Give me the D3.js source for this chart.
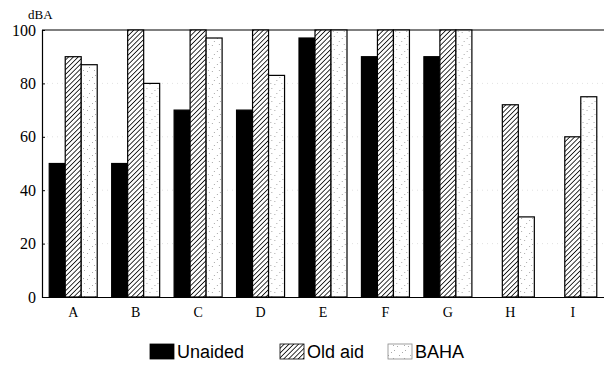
<!DOCTYPE html>
<html>
<head>
<meta charset="utf-8">
<style>
  body { margin: 0; background: #fff; }
  .tick text { font-family: "Liberation Serif", "DejaVu Serif", serif; }
</style>
</head>
<body>
<svg id="chart" width="604" height="365"></svg>
<script src="https://d3js.org/d3.v7.min.js"></script>
<script>
// data
var categories = ["A", "B", "C", "D", "E", "F", "G", "H", "I"];
var seriesNames = ["Unaided", "Old aid", "BAHA"];
var unaided = [50, 50, 70, 70, 97, 90, 90, 0, 0];
var oldAid  = [90, 100, 100, 100, 100, 100, 100, 72, 60];
var baha    = [87, 80, 97, 83, 100, 100, 100, 30, 75];
var yTicks  = [0, 20, 40, 60, 80, 100];

var svg = d3.select("#chart"),
    margin = {top: 30, right: 0, bottom: 68, left: 42},
    width = +svg.attr("width") - margin.left - margin.right,
    height = +svg.attr("height") - margin.top - margin.bottom;

// patterns
var defs = svg.append("defs");
var hatch = defs.append("pattern")
  .attr("id", "hatch")
  .attr("patternUnits", "userSpaceOnUse")
  .attr("width", 3.4).attr("height", 3.4)
  .attr("patternTransform", "rotate(45)");
hatch.append("rect").attr("width", 3.4).attr("height", 3.4).attr("fill", "#fff");
hatch.append("line").attr("x1", 0).attr("y1", 0).attr("x2", 0).attr("y2", 3.4)
  .attr("stroke", "#111").attr("stroke-width", 1.7);

var dots = defs.append("pattern")
  .attr("id", "dots")
  .attr("patternUnits", "userSpaceOnUse")
  .attr("width", 11).attr("height", 13);
dots.append("rect").attr("width", 11).attr("height", 13).attr("fill", "#fff");
[[1,2],[6,8],[8,1],[3,11],[9,6]].forEach(function(p){
  dots.append("rect").attr("x", p[0]).attr("y", p[1]).attr("width", 1).attr("height", 1).attr("fill", "#aaa");
});

var fills = ["#000", "url(#hatch)", "url(#dots)"];

var x = d3.scaleBand().domain(categories).range([0, width]);
var xs = d3.scaleBand().domain(seriesNames).range([x.bandwidth()/2 - 24, x.bandwidth()/2 + 24]);
var y = d3.scaleLinear().domain([0, 100]).range([height, 0]);

var g = svg.append("g").attr("transform", "translate(" + margin.left + "," + margin.top + ")");

// faint gridlines
g.append("g")
  .selectAll("line").data(yTicks.slice(1, -1)).enter().append("line")
  .attr("x1", 0).attr("x2", width)
  .attr("y1", function(d){ return y(d); }).attr("y2", function(d){ return y(d); })
  .attr("stroke", "#ccc").attr("stroke-width", 0.6).attr("stroke-dasharray", "1,4");

// top frame line
g.append("line").attr("x1", 0).attr("x2", width).attr("y1", 0).attr("y2", 0)
  .attr("stroke", "#000").attr("stroke-width", 1.2);

var table = categories.map(function(c, i){
  return {cat: c, vals: [unaided[i], oldAid[i], baha[i]]};
});

var groups = g.selectAll(".grp").data(table).enter().append("g")
  .attr("transform", function(d){ return "translate(" + x(d.cat) + ",0)"; });

groups.selectAll("rect")
  .data(function(d){ return d.vals.map(function(v, j){ return {s: seriesNames[j], v: v, j: j}; }).filter(function(e){ return e.v > 0; }); })
  .enter().append("rect")
  .attr("x", function(d){ return xs(d.s); })
  .attr("y", function(d){ return y(d.v); })
  .attr("width", xs.bandwidth())
  .attr("height", function(d){ return height - y(d.v); })
  .attr("fill", function(d){ return fills[d.j]; })
  .attr("stroke", "#000")
  .attr("stroke-width", 1.2);

// axes
var yAxis = g.append("g")
  .call(d3.axisLeft(y).tickValues(yTicks).tickSize(-3).tickPadding(6));
yAxis.select(".domain").attr("stroke-width", 1.2);
yAxis.selectAll("text").attr("font-size", 16).attr("fill", "#000");

var xAxis = g.append("g")
  .attr("transform", "translate(0," + height + ")")
  .call(d3.axisBottom(x).tickSize(0).tickPadding(10));
xAxis.select(".domain").attr("stroke-width", 1.2);
xAxis.selectAll("text").attr("font-size", 14).attr("fill", "#000");

svg.append("text")
  .attr("x", 28).attr("y", 19)
  .attr("font-family", "Liberation Serif, serif")
  .attr("font-size", 13)
  .text("dBA");

// legend
var legendX = [150, 280, 388];
var legend = svg.append("g").attr("transform", "translate(0,344)");
seriesNames.forEach(function(s, i){
  legend.append("rect")
    .attr("x", legendX[i]).attr("y", 0)
    .attr("width", 24).attr("height", 15)
    .attr("fill", fills[i])
    .attr("stroke", i === 2 ? "#888" : "#000")
    .attr("stroke-width", 0.8);
  legend.append("text")
    .attr("x", legendX[i] + 27).attr("y", 14)
    .attr("font-family", "Liberation Sans, Arial, sans-serif")
    .attr("font-size", 18)
    .text(s);
});
</script>
</body>
</html>
